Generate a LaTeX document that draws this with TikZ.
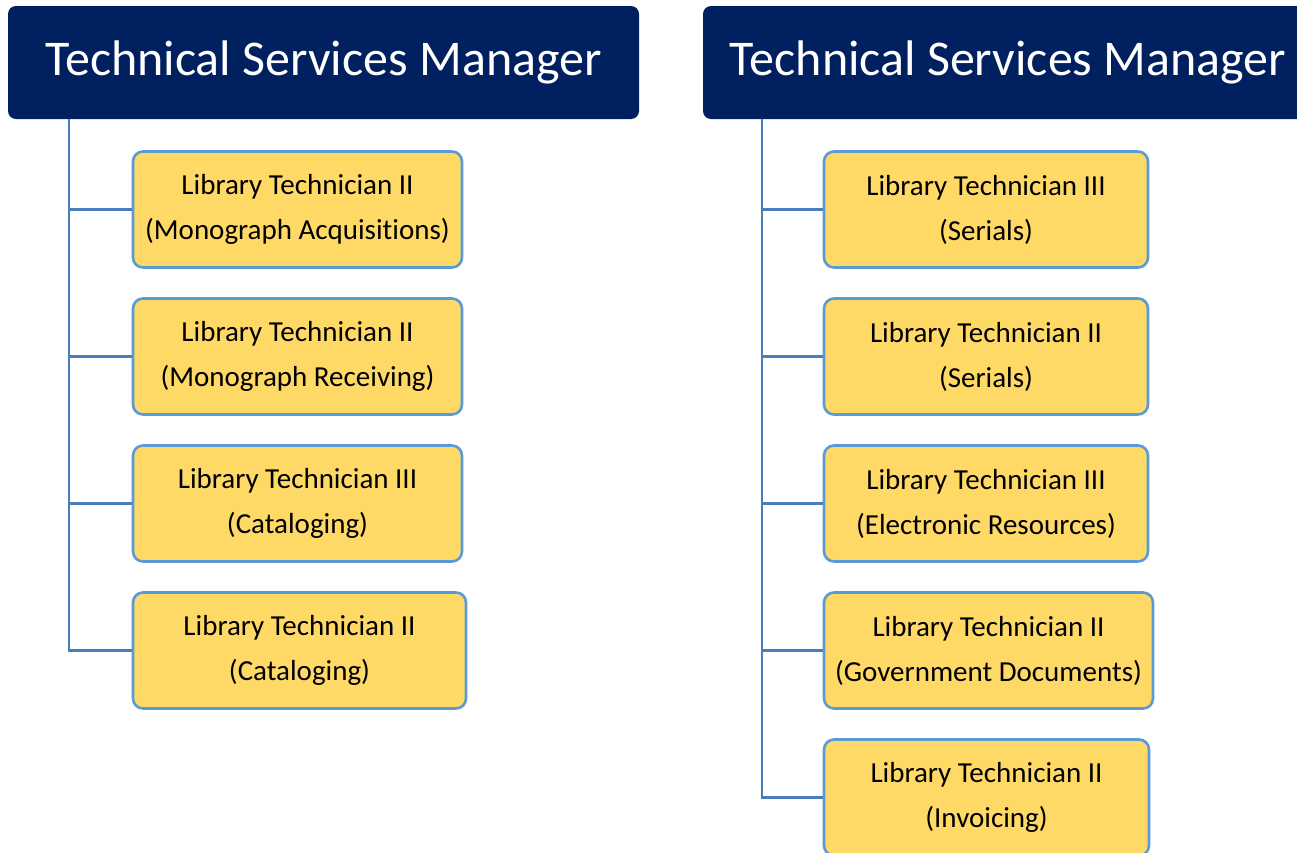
\documentclass[tikz,border=0pt]{standalone}
\usepackage{fontspec}
\setmainfont{Carlito}[Ligatures=NoCommon,RawFeature={-liga,-clig,-calt,-dlig}]
\usetikzlibrary{positioning}
\definecolor{navy}{HTML}{002060}
\definecolor{techfill}{HTML}{FFD966}
\definecolor{techedge}{HTML}{5B9BD5}
\definecolor{linkblue}{HTML}{4A7EBB}
\begin{document}
\begin{tikzpicture}[x=1pt, y=-1pt, node distance=147pt]
\tikzstyle{head}=[rectangle,rounded corners=8pt,fill=navy,text=white,minimum height=113pt,inner sep=0pt,font=\fontsize{50}{60}\selectfont]
\tikzstyle{tech}=[rectangle,rounded corners=10pt,draw=techedge,fill=techfill,line width=2.6pt,minimum width=324pt,minimum height=116pt,inner sep=0pt,align=center,font=\fontsize{29}{45}\selectfont]
\tikzstyle{link}=[draw=linkblue,line width=2.5pt]
\useasboundingbox (0,0) rectangle (1297,852);
\clip (0,0) rectangle (1297,852);

% left column
\coordinate (trunkL) at (69,0);
\node[head,minimum width=631pt](mgrL) at (323.5,62.5) {Technical Services Manager};
\node[tech,minimum width=329pt](acq) at (297.5,209.5) {Library Technician II\\(Monograph Acquisit\kern0pt ions)};
\node[tech,minimum width=329pt](rcv)[below of=acq] {Library Technician II\\(Monograph Receiving)};
\node[tech,minimum width=329pt](catA)[below of=rcv] {Library Technician III\\(Cataloging)};
\node[tech,minimum width=333pt](catB)[below of=catA,xshift=2pt] {Library Technician II\\(Cataloging)};

\draw[link] (mgrL.south -| trunkL) |- (catB);
\foreach \n in {acq,rcv,catA}
  \draw[link] (\n) -- (\n -| trunkL);

% right column
\coordinate (trunkR) at (762,0);
\node[head,minimum width=610pt](mgrR) at (1008,62.5) {Technical Services Manager};
\node[tech](serA) at (986,209.5) {Library Technician III\\(Serials)};
\node[tech](serB)[below of=serA] {Library Technician II\\(Serials)};
\node[tech](eres)[below of=serB] {Library Technician III\\(Electronic Resources)};
\node[tech,minimum width=329pt](gov)[below of=eres,xshift=2.5pt] {Library Technician II\\(Government Documents)};
\node[tech,minimum width=325pt](inv)[below of=gov,xshift=-2pt] {Library Technician II\\(Invoicing)};

\draw[link] (mgrR.south -| trunkR) |- (inv);
\foreach \n in {serA,serB,eres,gov}
  \draw[link] (\n) -- (\n -| trunkR);

\end{tikzpicture}
\end{document}
